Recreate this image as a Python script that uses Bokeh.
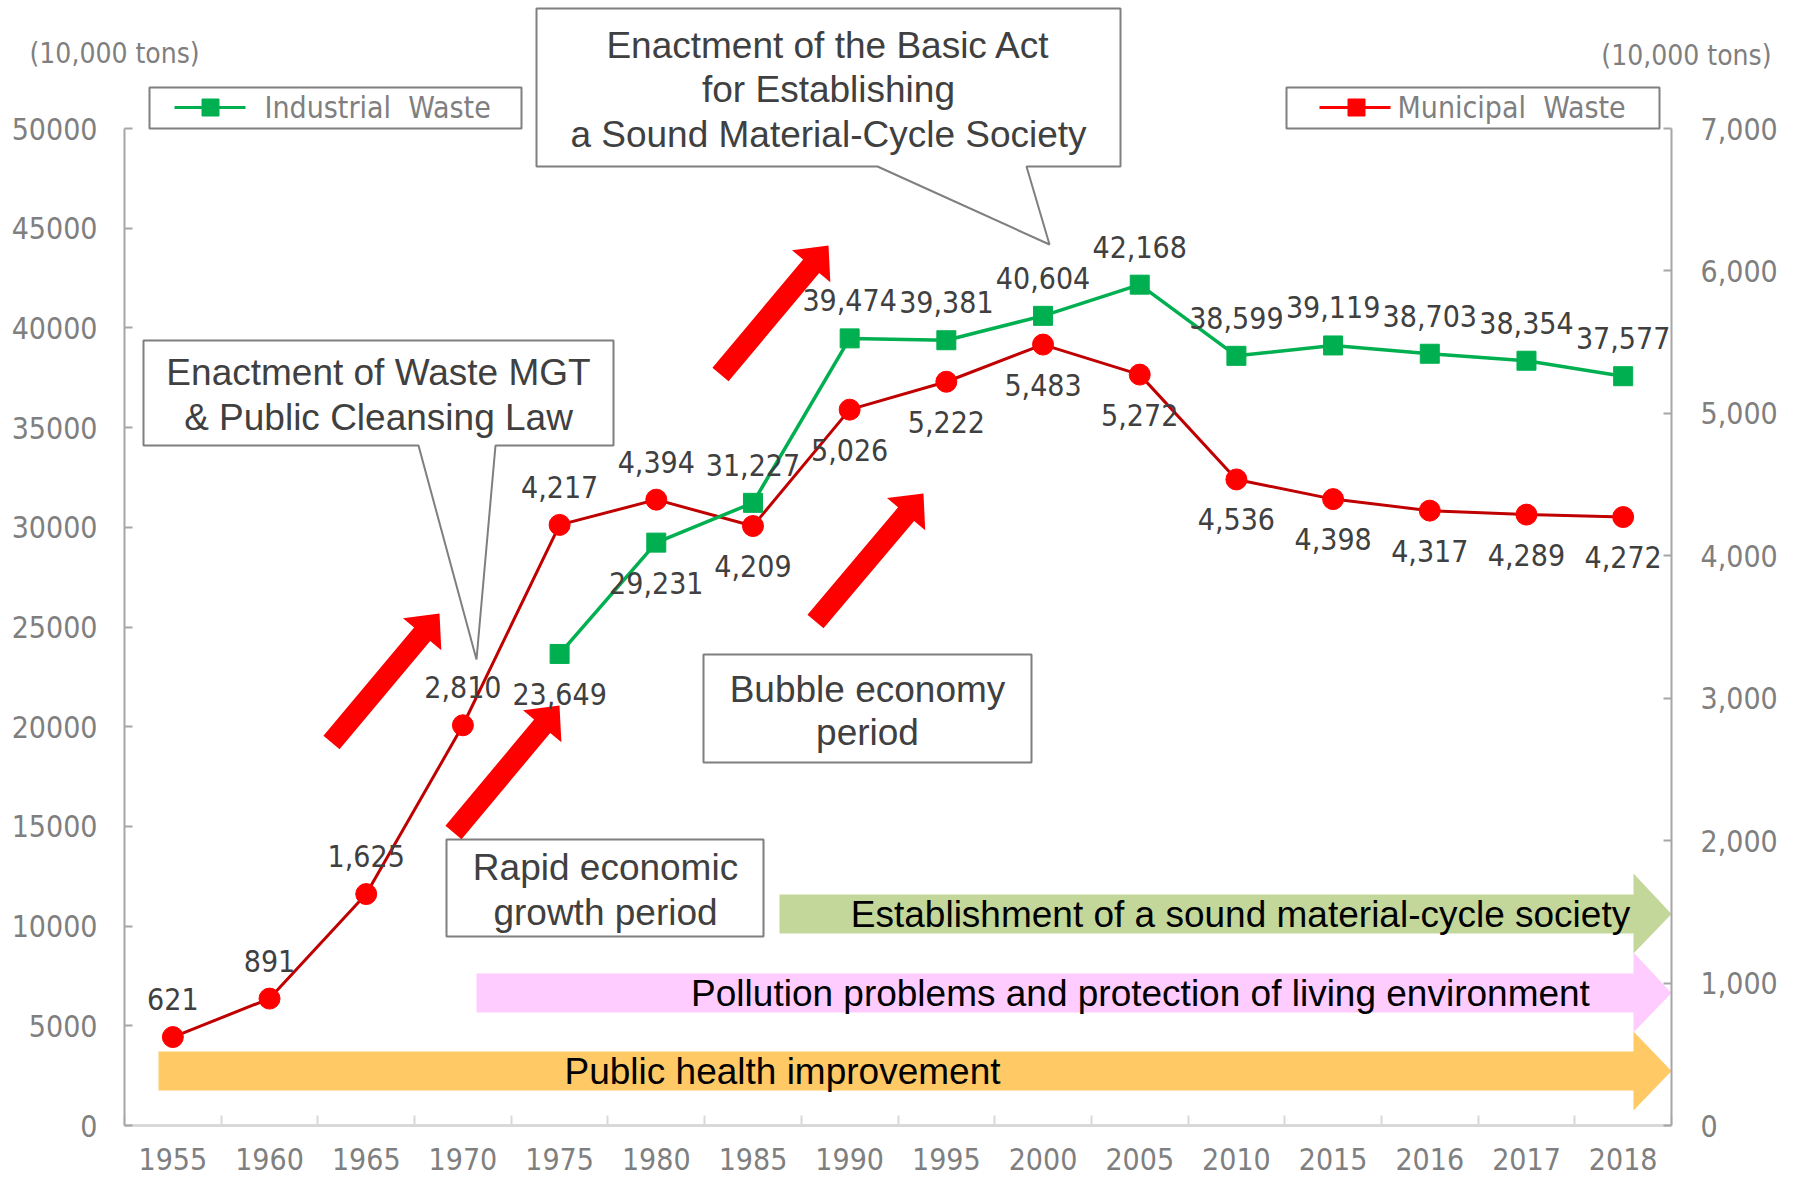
import math
from bokeh.plotting import figure
from bokeh.models import Range1d, LinearAxis, FixedTicker, NumeralTickFormatter
from bokeh.core.properties import value
from bokeh.embed import file_html
from bokeh.resources import INLINE

# ---------------- data ----------------
years = ["1955", "1960", "1965", "1970", "1975", "1980", "1985", "1990",
         "1995", "2000", "2005", "2010", "2015", "2016", "2017", "2018"]
municipal = [621, 891, 1625, 2810, 4217, 4394, 4209, 5026,
             5222, 5483, 5272, 4536, 4398, 4317, 4289, 4272]
industrial_years = ["1975", "1980", "1985", "1990", "1995", "2000",
                    "2005", "2010", "2015", "2016", "2017", "2018"]
industrial = [23649, 29231, 31227, 39474, 39381, 40604,
              42168, 38599, 39119, 38703, 38354, 37577]
left_ticks = [0, 5000, 10000, 15000, 20000, 25000, 30000, 35000, 40000, 45000, 50000]
right_ticks = [0, 1000, 2000, 3000, 4000, 5000, 6000, 7000]
muni_label_side = ["above"] * 6 + ["below"] * 10
ind_label_side = ["below", "below"] + ["above"] * 10
unit_text = "(10,000 tons)"

# ---------------- layout (the frame covers the whole canvas) ----------------
N = len(years)
PW = 1792             # canvas width
PH = 1178             # canvas height
AX_L = 124            # page x of the left value axis
AX_R = 1671           # page x of the right value axis
AX_B = 1125           # page y of the zero line
TOP = 128             # page y of the top tick
CW = (AX_R - AX_L) / N
YPU = left_ticks[-1] / (AX_B - TOP)      # left units per pixel
YPU_R = right_ticks[-1] / (AX_B - TOP)   # right units per pixel


def X(px):
    return (px - AX_L) / CW - 0.5


def Y(py):
    return (AX_B - py) * YPU


GRAY_TXT = "#7f7f7f"
DARK_TXT = "#404040"
LBL_FONT = "DejaVu Sans Condensed"
ARIAL = "Liberation Sans"

p = figure(frame_width=PW, frame_height=PH,
           x_range=Range1d(X(0), X(PW)), y_range=Range1d(Y(PH), Y(0)),
           output_backend="svg", toolbar_location=None,
           min_border_left=0, min_border_right=0, min_border_top=0,
           min_border_bottom=0)
p.outline_line_color = None
p.grid.visible = False
p.background_fill_color = "white"
p.border_fill_color = "white"
p.extra_y_ranges = {"right": Range1d((AX_B - PH) * YPU_R, AX_B * YPU_R)}

# left value axis
ya = p.yaxis[0]
ya.fixed_location = -0.5
ya.ticker = FixedTicker(ticks=left_ticks)
ya.bounds = (left_ticks[0], left_ticks[-1])
ya.axis_line_color = "#a6a6a6"
ya.axis_line_width = 2
ya.major_tick_line_color = "#a6a6a6"
ya.major_tick_line_width = 2
ya.major_tick_in = 8
ya.major_tick_out = 0
ya.minor_tick_line_color = None
ya.major_label_text_font = LBL_FONT
ya.major_label_text_font_size = "30px"
ya.major_label_text_color = GRAY_TXT
ya.major_label_standoff = 27

# right value axis
ra = LinearAxis(y_range_name="right", ticker=FixedTicker(ticks=right_ticks),
                formatter=NumeralTickFormatter(format="0,0"), fixed_location=N - 0.5)
ra.bounds = (right_ticks[0], right_ticks[-1])
ra.axis_line_color = "#a6a6a6"
ra.axis_line_width = 2
ra.major_tick_line_color = "#a6a6a6"
ra.major_tick_line_width = 2
ra.major_tick_in = 8
ra.major_tick_out = 0
ra.minor_tick_line_color = None
ra.major_label_text_font = LBL_FONT
ra.major_label_text_font_size = "30px"
ra.major_label_text_color = GRAY_TXT
ra.major_label_standoff = 29
p.add_layout(ra, "right")

# bottom category axis, on the zero line
xa = p.xaxis[0]
xa.fixed_location = 0
centers = list(range(N))
xa.ticker = FixedTicker(ticks=centers, minor_ticks=[i - 0.5 for i in range(N + 1)])
xa.major_label_overrides = {i: years[i] for i in centers}
xa.bounds = (-0.5, N - 0.5)
xa.axis_line_color = "#d9d9d9"
xa.axis_line_width = 3
xa.major_tick_line_color = None
xa.major_tick_in = 0
xa.major_tick_out = 0
xa.minor_tick_line_color = "#d9d9d9"
xa.minor_tick_line_width = 2
xa.minor_tick_in = 10
xa.minor_tick_out = 0
xa.major_label_text_font = LBL_FONT
xa.major_label_text_font_size = "30px"
xa.major_label_text_color = GRAY_TXT
xa.major_label_standoff = 22

# ---------------- period banners ----------------
banners = [
    # x0, body top, body bottom, head top, head bottom, colour, text, text centre x
    (779, 894, 933, 873, 953, "#c4d79b", "Establishment of a sound material-cycle society", 1240),
    (476, 973, 1012, 952, 1032, "#ffccff", "Pollution problems and protection of living environment", 1140),
    (158, 1051, 1090, 1031, 1110, "#ffc966", "Public health improvement", 782),
]
XH, XTIP = 1633, 1671
for x0, bt, bb, ht, hb, col, txt, tx in banners:
    mid = (bt + bb) / 2
    xs = [X(x0), X(XH), X(XH), X(XTIP), X(XH), X(XH), X(x0)]
    ys = [Y(bt), Y(bt), Y(ht), Y(mid), Y(hb), Y(bb), Y(bb)]
    p.patch(xs, ys, fill_color=col, line_color=None)
    p.text([X(tx)], [Y(mid)], text=[txt], text_align="center", text_baseline="middle",
           text_font=value(ARIAL), text_font_size=value("37px"), text_color="black")

# ---------------- callout boxes ----------------
def box_text(lines, cx, ys_):
    for ln, yy in zip(lines, ys_):
        p.text([X(cx)], [Y(yy)], text=[ln], text_align="center", text_baseline="middle",
               text_font=value(ARIAL), text_font_size=value("37px"), text_color=DARK_TXT)


# Waste MGT callout
pts = [(143, 340), (613, 340), (613, 445), (495, 445), (476, 659), (418, 445), (143, 445)]
p.patch([X(a) for a, b in pts], [Y(b) for a, b in pts], fill_color="white",
        line_color="#7f7f7f", line_width=2)
box_text(["Enactment of Waste MGT", "& Public Cleansing Law"], 378, [372, 417])

# Basic Act callout
pts = [(536, 8), (1120, 8), (1120, 166), (1026, 166), (1049, 244), (877, 166), (536, 166)]
p.patch([X(a) for a, b in pts], [Y(b) for a, b in pts], fill_color="white",
        line_color="#7f7f7f", line_width=2)
box_text(["Enactment of the Basic Act", "for Establishing",
          "a Sound Material-Cycle Society"], 828, [45, 89, 134])

# Bubble economy box
p.quad(left=[X(703)], right=[X(1031)], top=[Y(654)], bottom=[Y(762)],
       fill_color="white", line_color="#7f7f7f", line_width=2)
box_text(["Bubble economy", "period"], 867, [689, 732])

# Rapid economic growth box
p.quad(left=[X(446)], right=[X(763)], top=[Y(839)], bottom=[Y(936)],
       fill_color="white", line_color="#7f7f7f", line_width=2)
box_text(["Rapid economic", "growth period"], 605, [867, 912])

# ---------------- red block arrows ----------------
arrows = [((331, 742), (439, 613)), ((453, 832), (559, 705)),
          ((720, 374), (828, 245)), ((815, 621), (923, 493))]
HW, HH, HL = 10.5, 25, 27
for (tx0, ty0), (tx1, ty1) in arrows:
    dx, dy = tx1 - tx0, ty1 - ty0
    L = math.hypot(dx, dy)
    ux, uy = dx / L, dy / L
    nx, ny = -uy, ux
    bx, by = tx1 - HL * ux, ty1 - HL * uy
    poly = [(tx0 + nx * HW, ty0 + ny * HW), (bx + nx * HW, by + ny * HW),
            (bx + nx * HH, by + ny * HH), (tx1, ty1),
            (bx - nx * HH, by - ny * HH), (bx - nx * HW, by - ny * HW),
            (tx0 - nx * HW, ty0 - ny * HW)]
    p.patch([X(a) for a, b in poly], [Y(b) for a, b in poly],
            fill_color="#ff0000", line_color=None)

# ---------------- series ----------------
mx = list(range(N))
ix = [years.index(y) for y in industrial_years]

p.line(mx, municipal, y_range_name="right", line_color="#c00000", line_width=3)
p.scatter(mx, municipal, y_range_name="right", marker="circle", size=21,
          fill_color="#ff0000", line_color="#ff0000")
p.line(ix, industrial, line_color="#00b050", line_width=3.5)
p.scatter(ix, industrial, marker="square", size=19,
          fill_color="#00b050", line_color="#00b050")

ABOVE, BELOW = -38, 40
p.text(mx, municipal, y_range_name="right", text=[f"{v:,}" for v in municipal],
       y_offset=[ABOVE if s == "above" else BELOW for s in muni_label_side],
       text_align="center", text_baseline="middle", text_font=value(LBL_FONT),
       text_font_size=value("30px"), text_color=DARK_TXT)
p.text(ix, industrial, text=[f"{v:,}" for v in industrial],
       y_offset=[ABOVE if s == "above" else BELOW for s in ind_label_side],
       text_align="center", text_baseline="middle", text_font=value(LBL_FONT),
       text_font_size=value("30px"), text_color=DARK_TXT)

# ---------------- legends ----------------
legends = [
    # box l, r, line x0, x1, marker x, text x, colour, label
    (149, 521, 174, 245, 210, 264, "#00b050", "Industrial \u00a0Waste"),
    (1286, 1659, 1319, 1390, 1356, 1397, "#ff0000", "Municipal \u00a0Waste"),
]
for bl, br, l0, l1, mkx, txx, col, lab in legends:
    p.quad(left=[X(bl)], right=[X(br)], top=[Y(87)], bottom=[Y(128)],
           fill_color="white", line_color="#7f7f7f", line_width=2)
    p.segment(x0=[X(l0)], y0=[Y(107)], x1=[X(l1)], y1=[Y(107)], line_color=col, line_width=3)
    p.scatter([X(mkx)], [Y(107)], marker="square", size=17, fill_color=col, line_color=col)
    p.text([X(txx)], [Y(107)], text=[lab], text_align="left", text_baseline="middle",
           text_font=value(LBL_FONT), text_font_size=value("30px"), text_color=GRAY_TXT)

# ---------------- unit labels ----------------
p.text([X(29)], [Y(53)], text=[unit_text], text_align="left", text_baseline="middle",
       text_font=value(LBL_FONT), text_font_size=value("28px"), text_color=GRAY_TXT)
p.text([X(1771)], [Y(55)], text=[unit_text], text_align="right", text_baseline="middle",
       text_font=value(LBL_FONT), text_font_size=value("28px"), text_color=GRAY_TXT)

open("out.html", "w").write(file_html(p, INLINE))
